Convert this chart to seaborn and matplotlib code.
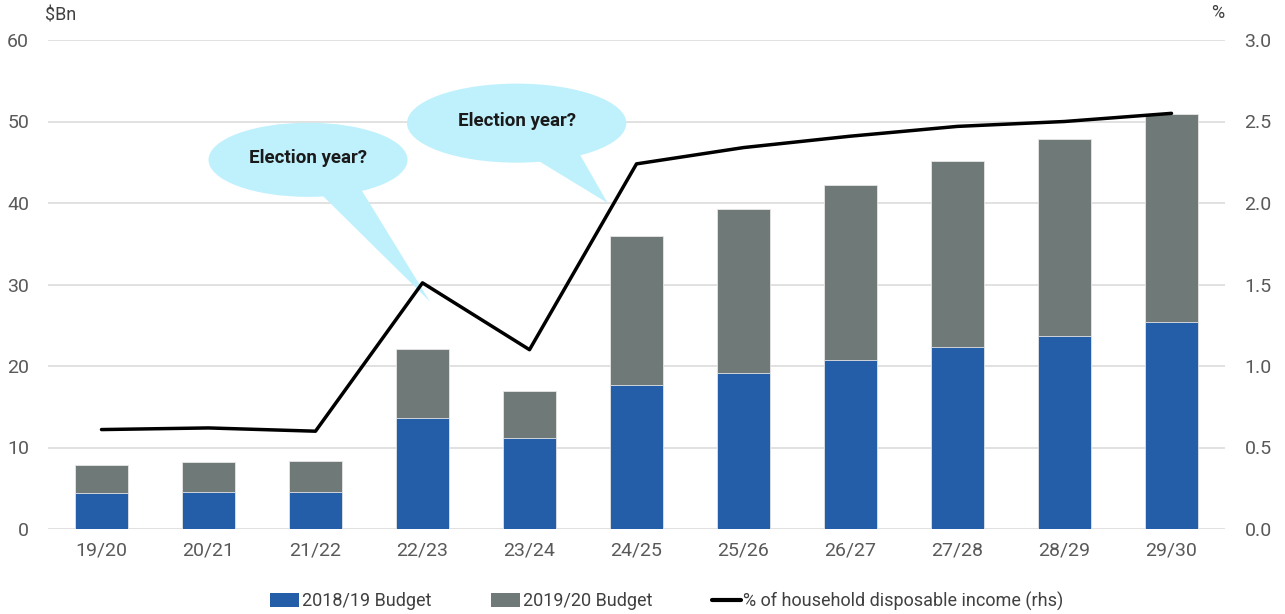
import matplotlib
matplotlib.use("Agg")
import matplotlib.pyplot as plt
from matplotlib.patches import Ellipse, Polygon, Patch
from matplotlib.lines import Line2D
import numpy as np
import pandas as pd
import seaborn as sns

# Fiscal years and series
years = ["19/20", "20/21", "21/22", "22/23", "23/24", "24/25",
         "25/26", "26/27", "27/28", "28/29", "29/30"]
budget_2018_19 = [4.4, 4.55, 4.55, 13.6, 11.2, 17.7, 19.1, 20.7, 22.3, 23.7, 25.4]
budget_2019_20 = [7.85, 8.2, 8.4, 22.1, 16.9, 36.0, 39.3, 42.2, 45.2, 47.9, 50.9]
pct_disposable_income = [0.61, 0.62, 0.60, 1.51, 1.10, 2.24, 2.34, 2.41, 2.47, 2.50, 2.55]

left_ticks = [0, 10, 20, 30, 40, 50, 60]
right_ticks = [0.0, 0.5, 1.0, 1.5, 2.0, 2.5, 3.0]

BLUE = "#245EA8"
GREY = "#6F7A78"
CALLOUT = "#BFF1FD"
TICK_GREY = "#595959"
TEXT_DARK = "#404040"

sns.set_theme(style="white")
plt.rcParams["font.family"] = ["Roboto", "DejaVu Sans"]

df = pd.DataFrame({"year": years,
                   "b1819": budget_2018_19,
                   "b1920": budget_2019_20,
                   "pct": pct_disposable_income})

fig = plt.figure(figsize=(12.85, 6.14), dpi=100)
ax = fig.add_axes([48 / 1285, 1 - 529 / 614, (1225 - 48) / 1285, (529 - 40) / 614])

# 2019/20 budget totals behind, 2018/19 budget in front
sns.barplot(data=df, x="year", y="b1920", color=GREY, width=0.5, saturation=1,
            edgecolor="#E6E6E6", linewidth=0.6, ax=ax, zorder=2)
sns.barplot(data=df, x="year", y="b1819", color=BLUE, width=0.5, saturation=1,
            edgecolor="#E6E6E6", linewidth=0.6, ax=ax, zorder=3)

ax.set_xlim(-0.5, len(years) - 0.5)
ax.set_ylim(0, 60)
ax.set_yticks(left_ticks)
ax.set_xlabel("")
ax.set_ylabel("")
ax.grid(axis="y", color="#D9D9D9", linewidth=1.1, zorder=0)
ax.set_axisbelow(True)
for s in ax.spines.values():
    s.set_visible(False)
ax.tick_params(axis="y", length=0, pad=13.5, labelsize=14, labelcolor=TICK_GREY)
ax.tick_params(axis="x", length=0, pad=9, labelsize=14, labelcolor=TICK_GREY)

# speech-bubble callouts
def callout(cx, cy, w, h, tail, label):
    ax.add_patch(Polygon(tail, closed=True, facecolor=CALLOUT, edgecolor="none", zorder=4))
    ax.add_patch(Ellipse((cx, cy), w, h, facecolor=CALLOUT, edgecolor="none", zorder=4))
    ax.text(cx, cy + 0.2, label, ha="center", va="center", fontsize=13.5,
            fontweight="bold", color="#1A1A1A", zorder=5,
            family=["Roboto", "DejaVu Sans"])

callout(1.93, 45.3, 1.86, 9.1,
        [(2.02, 41.5), (2.42, 41.8), (3.07, 27.9)], "Election year?")
callout(3.88, 49.8, 2.05, 9.7,
        [(4.03, 45.6), (4.46, 46.2), (4.73, 40.0)], "Election year?")

# percentage of household disposable income on the right axis
ax2 = ax.twinx()
sns.lineplot(x=np.arange(len(years)), y=df["pct"], color="black", linewidth=2.5,
             ax=ax2, zorder=6)
ax2.set_ylim(0, 3)
ax2.set_yticks(right_ticks)
ax2.set_yticklabels([f"{v:.1f}" for v in right_ticks])
ax2.set_ylabel("")
for s in ax2.spines.values():
    s.set_visible(False)
ax2.tick_params(axis="y", length=0, pad=14, labelsize=14, labelcolor=TICK_GREY)

fig.text(45 / 1285, 1 - 15 / 614, "$Bn", ha="left", va="center", fontsize=13, color=TEXT_DARK)
fig.text(1218 / 1285, 1 - 13 / 614, "%", ha="center", va="center", fontsize=13, color=TEXT_DARK)

handles = [Patch(facecolor=BLUE, edgecolor="none"),
           Patch(facecolor=GREY, edgecolor="none"),
           Line2D([0], [0], color="black", linewidth=3)]
labels = ["2018/19 Budget", "2019/20 Budget", "% of household disposable income (rhs)"]
leg = fig.legend(handles, labels, loc="center", bbox_to_anchor=(667 / 1285, 1 - 601 / 614),
                 ncol=3, frameon=False, fontsize=13, handlelength=1.6, handleheight=0.75,
                 handletextpad=0.15, columnspacing=3.3)
for t in leg.get_texts():
    t.set_color(TEXT_DARK)

fig.savefig("out.png", dpi=100)
